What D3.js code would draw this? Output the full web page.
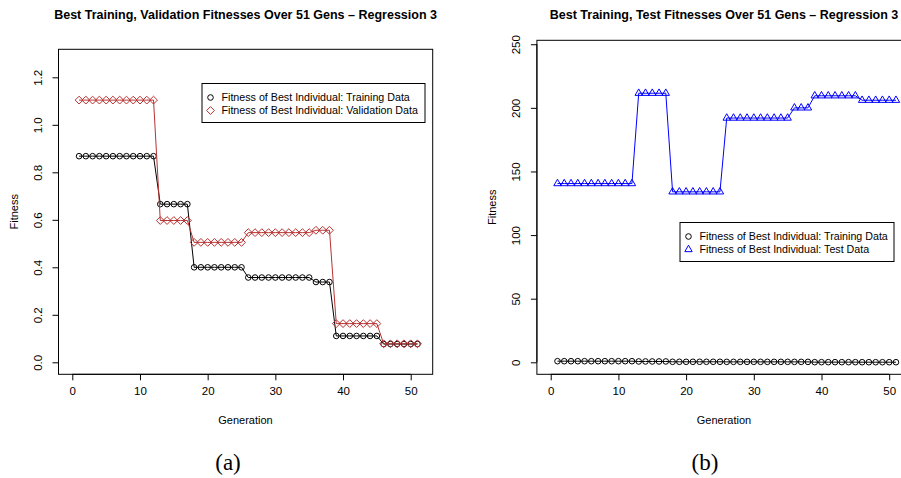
<!DOCTYPE html>
<html>
<head>
<meta charset="utf-8">
<script src="https://cdn.jsdelivr.net/npm/d3@7"></script>
<style>
  body { margin: 0; background: #fff; }
  svg { display: block; font-family: "Liberation Sans", Arial, sans-serif; }
</style>
</head>
<body>
<div id="chart"></div>
<script>
// Generations 1..51
const generations = d3.range(1, 52);

// Best-of-generation fitness
const trainingFitness = [
  0.868, 0.868, 0.868, 0.868, 0.868, 0.868, 0.868, 0.868, 0.868, 0.868, 0.868, 0.868,
  0.666, 0.666, 0.666, 0.666, 0.666,
  0.400, 0.400, 0.400, 0.400, 0.400, 0.400, 0.400, 0.400,
  0.357, 0.357, 0.357, 0.357, 0.357, 0.357, 0.357, 0.357, 0.357, 0.357,
  0.338, 0.338, 0.338,
  0.111, 0.111, 0.111, 0.111, 0.111, 0.111, 0.111,
  0.077, 0.077, 0.077, 0.077, 0.077, 0.077
];
const validationFitness = [
  1.104, 1.104, 1.104, 1.104, 1.104, 1.104, 1.104, 1.104, 1.104, 1.104, 1.104, 1.104,
  0.597, 0.597, 0.597, 0.597, 0.597,
  0.505, 0.505, 0.505, 0.505, 0.505, 0.505, 0.505, 0.505,
  0.546, 0.546, 0.546, 0.546, 0.546, 0.546, 0.546, 0.546, 0.546, 0.546,
  0.556, 0.556, 0.556,
  0.163, 0.163, 0.163, 0.163, 0.163, 0.163, 0.163,
  0.078, 0.078, 0.078, 0.078, 0.078, 0.078
];
const testFitness = [
  140.5, 140.5, 140.5, 140.5, 140.5, 140.5, 140.5, 140.5, 140.5, 140.5, 140.5, 140.5,
  211.5, 211.5, 211.5, 211.5, 211.5,
  134, 134, 134, 134, 134, 134, 134, 134,
  192, 192, 192, 192, 192, 192, 192, 192, 192, 192,
  200, 200, 200,
  209.5, 209.5, 209.5, 209.5, 209.5, 209.5, 209.5,
  206, 206, 206, 206, 206, 206
];

const xTicks = [0, 10, 20, 30, 40, 50];
const yTicksA = [0, 0.2, 0.4, 0.6, 0.8, 1.0, 1.2];
const yTicksB = [0, 50, 100, 150, 200, 250];

const titleA = "Best Training, Validation Fitnesses Over 51 Gens \u2013 Regression 3";
const titleB = "Best Training, Test Fitnesses Over 51 Gens \u2013 Regression 3";
const legendA = ["Fitness of Best Individual: Training Data", "Fitness of Best Individual: Validation Data"];
const legendB = ["Fitness of Best Individual: Training Data", "Fitness of Best Individual: Test Data"];

const RED = "#b83232";
const BLUE = "#0000ff";

const width = 901, height = 478;

const svg = d3.select("#chart").append("svg")
    .attr("width", width)
    .attr("height", height);

// marker shapes (R pch 1, 5, 2)
function circle(g, col) {
  g.append("circle").attr("r", 2.8).attr("fill", "none").attr("stroke", col).attr("stroke-width", 1);
}
function diamond(g, col) {
  const r = 3.9;
  g.append("path").attr("d", `M0,${-r}L${r},0L0,${r}L${-r},0Z`)
    .attr("fill", "none").attr("stroke", col).attr("stroke-width", 1);
}
function triangle(g, col) {
  const r = 4.3, xc = 3.7;
  g.append("path").attr("d", `M0,${-r}L${xc},${r / 2}L${-xc},${r / 2}Z`)
    .attr("fill", "none").attr("stroke", col).attr("stroke-width", 1);
}

function panel(opt) {
  const g = svg.append("g");
  const x = d3.scaleLinear().domain(opt.xDomain).range(opt.xRange);
  const y = d3.scaleLinear().domain(opt.yDomain).range(opt.yRange);

  const defs = svg.append("defs");
  defs.append("clipPath").attr("id", opt.id)
    .append("rect")
    .attr("x", opt.xRange[0]).attr("y", opt.yRange[1])
    .attr("width", opt.xRange[1] - opt.xRange[0])
    .attr("height", opt.yRange[0] - opt.yRange[1]);

  // title
  g.append("text")
    .attr("x", (opt.xRange[0] + opt.xRange[1]) / 2)
    .attr("y", 18.5)
    .attr("text-anchor", "middle")
    .attr("font-weight", "bold")
    .attr("font-size", 12.5)
    .text(opt.title);

  // series
  const plot = g.append("g").attr("clip-path", `url(#${opt.id})`);
  opt.series.forEach(s => {
    const line = d3.line().x((d, i) => x(generations[i])).y(d => y(d));
    plot.append("path")
      .datum(s.values)
      .attr("fill", "none")
      .attr("stroke", s.color)
      .attr("stroke-width", 1)
      .attr("d", line);
    plot.selectAll(null)
      .data(s.values)
      .join("g")
      .attr("transform", (d, i) => `translate(${x(generations[i])},${y(d)})`)
      .each(function () { s.marker(d3.select(this), s.color); });
  });

  // box
  g.append("rect")
    .attr("x", opt.xRange[0]).attr("y", opt.yRange[1])
    .attr("width", opt.xRange[1] - opt.xRange[0])
    .attr("height", opt.yRange[0] - opt.yRange[1])
    .attr("fill", "none").attr("stroke", "#000").attr("stroke-width", 1);

  // x axis
  const xAxis = d3.axisBottom(x).tickValues(xTicks).tickSize(6).tickPadding(7).tickFormat(d3.format("d"));
  const gx = g.append("g")
    .attr("transform", `translate(0,${opt.yRange[0]})`)
    .call(xAxis);
  gx.select(".domain").attr("d", `M${x(xTicks[0])},0H${x(xTicks[xTicks.length - 1])}`);
  gx.selectAll("text").attr("font-size", 11.5).attr("font-family", "Liberation Sans, Arial, sans-serif").attr("fill", "#000");

  // y axis
  const yAxis = d3.axisLeft(y).tickValues(opt.yTicks).tickSize(6).tickFormat(opt.yFormat);
  const gy = g.append("g")
    .attr("transform", `translate(${opt.xRange[0]},0)`)
    .call(yAxis);
  const yt = opt.yTicks;
  gy.select(".domain").attr("d", `M0,${y(yt[0])}V${y(yt[yt.length - 1])}`);
  gy.selectAll(".tick text")
    .attr("x", null).attr("dy", null)
    .attr("text-anchor", "middle")
    .attr("transform", "translate(-17,0) rotate(-90)")
    .attr("font-size", 11.5)
    .attr("font-family", "Liberation Sans, Arial, sans-serif")
    .attr("fill", "#000");

  // axis titles
  g.append("text")
    .attr("x", (x(xTicks[0]) + x(xTicks[xTicks.length - 1])) / 2 + 4)
    .attr("y", 424)
    .attr("text-anchor", "middle")
    .attr("font-size", 11)
    .text("Generation");
  g.append("text")
    .attr("transform", `translate(${opt.xRange[0] - 41},${(opt.yRange[0] + opt.yRange[1]) / 2}) rotate(-90)`)
    .attr("text-anchor", "middle")
    .attr("font-size", 11)
    .text("Fitness");

  // legend
  const L = opt.legend;
  const lg = g.append("g");
  lg.append("rect")
    .attr("x", L.x).attr("y", L.y).attr("width", L.w).attr("height", L.h)
    .attr("fill", "#fff").attr("stroke", "#000").attr("stroke-width", 1);
  L.labels.forEach((t, i) => {
    const row = lg.append("g").attr("transform", `translate(${L.x},${L.y + 14 + i * 13})`);
    const m = row.append("g").attr("transform", "translate(8.5,0)");
    opt.series[i].marker(m, opt.series[i].color);
    row.append("text")
      .attr("x", 19.5)
      .attr("dy", "0.35em")
      .attr("font-size", 10.7)
      .text(t);
  });

  // caption
  g.append("text")
    .attr("x", opt.caption.x)
    .attr("y", 470)
    .attr("text-anchor", "middle")
    .attr("font-family", "Liberation Serif, serif")
    .attr("font-size", 23)
    .text(opt.caption.text);
}

panel({
  id: "clipA",
  xDomain: [-2.04, 53.25], xRange: [58.5, 432.7],
  yDomain: [-0.0505, 1.318], yRange: [374.3, 49.3],
  yTicks: yTicksA, yFormat: d3.format(".1f"),
  title: titleA,
  series: [
    { values: trainingFitness, color: "#000", marker: circle },
    { values: validationFitness, color: RED, marker: diamond }
  ],
  legend: { x: 202, y: 83.5, w: 223, h: 39, labels: legendA },
  caption: { x: 228, text: "(a)" }
});

panel({
  id: "clipB",
  xDomain: [-2.04, 53.25], xRange: [536.9, 911.2],
  yDomain: [-9.43, 253.1], yRange: [374.3, 40.3],
  yTicks: yTicksB, yFormat: d3.format("d"),
  title: titleB,
  series: [
    { values: trainingFitness, color: "#000", marker: circle },
    { values: testFitness, color: BLUE, marker: triangle }
  ],
  legend: { x: 680, y: 222.5, w: 214, h: 39, labels: legendB },
  caption: { x: 705, text: "(b)" }
});
</script>
</body>
</html>
